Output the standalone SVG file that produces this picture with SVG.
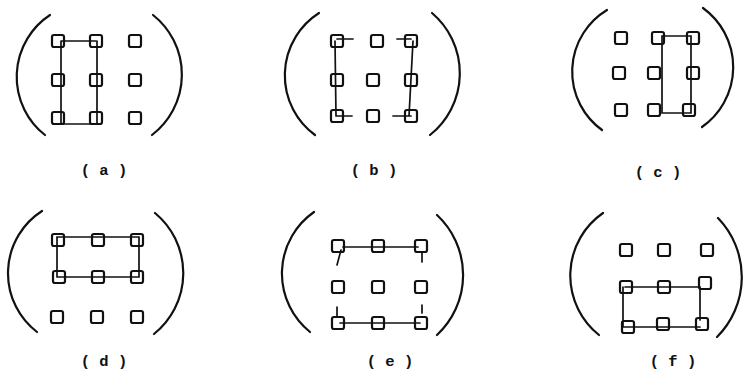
<svg xmlns="http://www.w3.org/2000/svg" width="745" height="371" viewBox="0 0 745 371">
<style>
.paren{fill:none;stroke:#111;stroke-width:2.2;stroke-linecap:round}
.sq{fill:none;stroke:#111;stroke-width:2.2}
.ln{fill:none;stroke:#111;stroke-width:1.7;stroke-linecap:round}
.lbl{font-family:"Liberation Mono",monospace;font-weight:bold;font-size:15.5px;fill:#111;text-anchor:middle}
</style>
<defs>
<rect id="s" x="-6" y="-6" width="12" height="12" rx="2"/>
</defs>
<g id="panel-a">
<path class="paren" d="M50,15 A74,74 0 0 0 45,135"/>
<path class="paren" d="M153,15 A76,76 0 0 1 152,135"/>
<g class="sq">
<use href="#s" x="58" y="41"/><use href="#s" x="96" y="41"/><use href="#s" x="135" y="41"/>
<use href="#s" x="58" y="80"/><use href="#s" x="96" y="80"/><use href="#s" x="135" y="80"/>
<use href="#s" x="58" y="118"/><use href="#s" x="96" y="118"/><use href="#s" x="135" y="118"/>
</g>
<text class="lbl" x="104" y="175">( a )</text>
</g>
<g id="panel-b">
<path class="paren" d="M319,13 A74,74 0 0 0 315,135"/>
<path class="paren" d="M432,13 A79,79 0 0 1 430,135"/>
<g class="sq">
<use href="#s" x="337" y="41"/><use href="#s" x="377" y="41"/><use href="#s" x="411" y="41"/>
<use href="#s" x="337" y="80"/><use href="#s" x="373" y="80"/><use href="#s" x="411" y="80"/>
<use href="#s" x="337" y="116"/><use href="#s" x="373" y="116"/><use href="#s" x="411" y="116"/>
</g>
<text class="lbl" x="374" y="175">( b )</text>
</g>
<g id="panel-c">
<path class="paren" d="M607,10 A72,72 0 0 0 602,130"/>
<path class="paren" d="M703,8 A73,73 0 0 1 702,127"/>
<g class="sq">
<use href="#s" x="621" y="38"/><use href="#s" x="658" y="38"/><use href="#s" x="693" y="38"/>
<use href="#s" x="619" y="73"/><use href="#s" x="654" y="73"/><use href="#s" x="693" y="73"/>
<use href="#s" x="621" y="110"/><use href="#s" x="654" y="110"/><use href="#s" x="689" y="110"/>
</g>
<text class="lbl" x="658" y="177">( c )</text>
</g>
<g id="panel-d">
<path class="paren" d="M42,211 A74,74 0 0 0 37,332"/>
<path class="paren" d="M155,213 A78,78 0 0 1 154,334"/>
<g class="sq">
<use href="#s" x="58" y="240"/><use href="#s" x="98" y="240"/><use href="#s" x="137" y="240"/>
<use href="#s" x="59" y="277"/><use href="#s" x="98" y="277"/><use href="#s" x="137" y="277"/>
<use href="#s" x="57" y="317"/><use href="#s" x="97" y="317"/><use href="#s" x="137" y="317"/>
</g>
<text class="lbl" x="104" y="366">( d )</text>
</g>
<g id="panel-e">
<path class="paren" d="M314,212 A75,75 0 0 0 310,332"/>
<path class="paren" d="M437,215 A82,82 0 0 1 437,335"/>
<g class="sq">
<use href="#s" x="338" y="246"/><use href="#s" x="378" y="246"/><use href="#s" x="421" y="246"/>
<use href="#s" x="338" y="287"/><use href="#s" x="378" y="287"/><use href="#s" x="421" y="287"/>
<use href="#s" x="338" y="323"/><use href="#s" x="378" y="323"/><use href="#s" x="421" y="323"/>
</g>
<text class="lbl" x="390" y="366">( e )</text>
</g>
<g id="panel-f">
<path class="paren" d="M603,213 A76,76 0 0 0 599,335"/>
<path class="paren" d="M718,218 A85,85 0 0 1 717,337"/>
<g class="sq">
<use href="#s" x="626" y="250"/><use href="#s" x="664" y="250"/><use href="#s" x="707" y="250"/>
<use href="#s" x="626" y="287"/><use href="#s" x="664" y="287"/><use href="#s" x="705" y="283"/>
<use href="#s" x="628" y="327"/><use href="#s" x="663" y="324"/><use href="#s" x="702" y="324"/>
</g>
<text class="lbl" x="673" y="366">( f )</text>
</g>
<g id="connectors" class="ln">
<path d="M61,41 H96 M61,41 V124 H97 V41"/>
<path d="M337,39 H353 M397,39 H411 M335,41 L336,116 M337,116 H352 M393,116 H411 M413,41 L409,116"/>
<path d="M662,36 H691 V113 H662 Z"/>
<path d="M57,237 H139 V277 H57 Z"/>
<path d="M343,247 H418 M341,250 L337,265 M422,252 V262 M340,323 H420 M337,307 V317 M422,305 V313"/>
<path d="M625,287 H700 V320 M623,287 V327 H700"/>
</g>
</svg>
